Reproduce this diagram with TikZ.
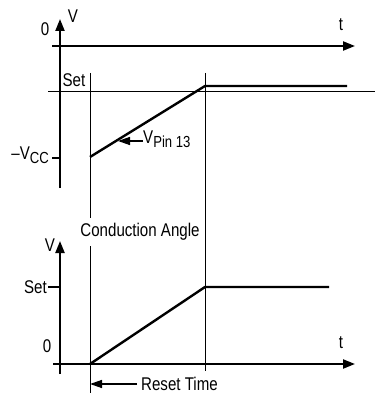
\documentclass[tikz,border=0pt]{standalone}
\usepackage{fontspec}
\setmainfont[FakeStretch=0.82]{Liberation Sans}
\usetikzlibrary{arrows.meta}
\newcommand{\lowsub}[1]{\raisebox{-0.45ex}{\fontsize{16}{16}\selectfont #1}}
\begin{document}
\begin{tikzpicture}[x=1pt,y=-1pt,
  axis/.style={line width=2.2pt,-{Triangle[length=12pt,width=9pt]}},
  thin/.style={line width=0.9pt},
  wave/.style={line width=2.4pt,line join=miter},
  tick/.style={line width=1.4pt},
  pointer/.style={line width=1.4pt,-{Triangle[length=12pt,width=8pt]}},
  lbl/.style={inner sep=0pt,font=\fontsize{18.4}{18.4}\selectfont}]
\useasboundingbox (0,0) rectangle (375,393);
% top graph coordinates
\coordinate (tyb) at (60,188);
\coordinate (tyt) at (60,19);
\coordinate (txl) at (52,46);
\coordinate (txr) at (355,46);
\coordinate (hl) at (48,91);
\coordinate (hr) at (375,91);
\coordinate (v1t) at (90,73);
\coordinate (v1b) at (90,393);
\coordinate (v2t) at (205,73);
\coordinate (v2b) at (205,371);
\coordinate (r1) at (90,157);
\coordinate (r2) at (205,86);
\coordinate (r3) at (347,86);
\coordinate (vcl) at (52,158);
\coordinate (vcr) at (60,158);
\coordinate (pa) at (143,141);
\coordinate (pb) at (118,141);
% bottom graph
\coordinate (byb) at (60,374);
\coordinate (byt) at (60,241);
\coordinate (bxl) at (53,364);
\coordinate (bxr) at (355,364);
\coordinate (s1) at (90,364);
\coordinate (s2) at (205,287);
\coordinate (s3) at (329,287);
\coordinate (stl) at (48,287);
\coordinate (str) at (60,287);
\coordinate (ra) at (137,384);
\coordinate (rb) at (90,384);

% thin lines
\draw[thin] (hl) -- (hr);
\draw[thin] (v1t) -- (v1b);
\draw[thin] (v2t) -- (v2b);
\node[lbl,fill=white,inner xsep=1pt,inner ysep=5pt] (ca) at (140,232) {Conduction Angle};

% top axes
\draw[axis] (tyb) -- (tyt);
\draw[axis] (txl) -- (txr);
\node[lbl] (tzero) at (45,29) {0};
\node[lbl] (tv) at (73,16) {V};
\node[lbl] (tt) at (341,25) {t};
\node[lbl] (tset) at (74,80) {Set};
\draw[wave] (r1) -- (r2) -- (r3);
\draw[tick] (vcl) -- (vcr);
\node[lbl,anchor=east] (vcc) at (49,155) {\textendash V\lowsub{CC}};
\draw[pointer] (pa) -- (pb);
\node[lbl,anchor=west] (vpin) at (143,139) {V\lowsub{Pin 13}};

% bottom axes
\draw[axis] (byb) -- (byt);
\draw[axis] (bxl) -- (bxr);
\node[lbl] (bv) at (50,245) {V};
\node[lbl] (bzero) at (47,346) {0};
\node[lbl] (bt) at (341,343) {t};
\draw[tick] (stl) -- (str);
\node[lbl,anchor=east] (bset) at (47,287) {Set};
\draw[wave] (s1) -- (s2) -- (s3);
\draw[pointer] (ra) -- (rb);
\node[lbl,anchor=west] (reset) at (141,383.5) {Reset Time};
\end{tikzpicture}
\end{document}
